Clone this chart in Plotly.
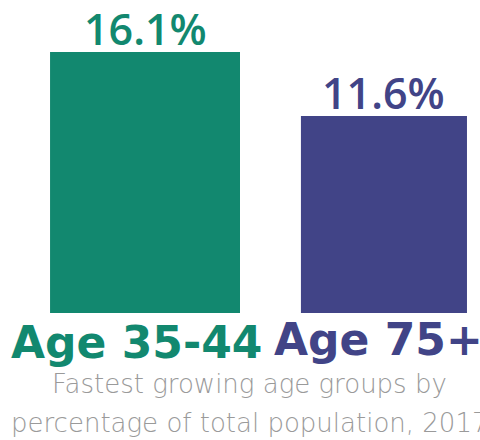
import plotly.graph_objects as go

# Data
groups = ["Age 35-44", "Age 75+"]
shares = [16.1, 11.6]
colors = ["#12886F", "#414487"]
subtitle_lines = ["Fastest growing age groups by", "percentage of total population, 2017"]

y_floor = -2.25

fig = go.Figure()
fig.add_trace(go.Bar(
    x=groups,
    y=[v - y_floor for v in shares],
    base=y_floor,
    width=[0.795, 0.695],
    marker=dict(color=colors, line=dict(width=0)),
    hoverinfo="skip",
))

# value labels above the bars
for g, v, c in zip(groups, shares, colors):
    fig.add_annotation(
        x=g, y=v, text=f"{v:.1f}%", showarrow=False,
        yanchor="bottom", yshift=-8,
        font=dict(family="Open Sans", size=43, color=c, weight=600),
    )

# group labels under the bars
label_shift = [-9, -5]
label_y = [-29, -26]
for g, c, dx, dy in zip(groups, colors, label_shift, label_y):
    fig.add_annotation(
        x=g, y=0, yref="paper", text=g, showarrow=False,
        yanchor="middle", xshift=dx, yshift=dy,
        font=dict(family="DejaVu Sans", size=44, color=c, weight="bold"),
    )

# caption
for i, line in enumerate(subtitle_lines):
    fig.add_annotation(
        x=0.52, xref="paper", y=0, yref="paper", text=line, showarrow=False,
        xanchor="center", yanchor="middle", yshift=-71 - 39 * i,
        font=dict(family="DejaVu Sans", size=26, color="#9A9A9A", weight=200),
    )

fig.update_layout(
    width=480, height=440,
    margin=dict(l=0, r=0, t=0, b=127),
    paper_bgcolor="white", plot_bgcolor="white",
    showlegend=False,
    xaxis=dict(type="category", range=[-0.607, 1.402], visible=False),
    yaxis=dict(range=[y_floor, 19.76], visible=False),
)

fig.write_html("out.html")
